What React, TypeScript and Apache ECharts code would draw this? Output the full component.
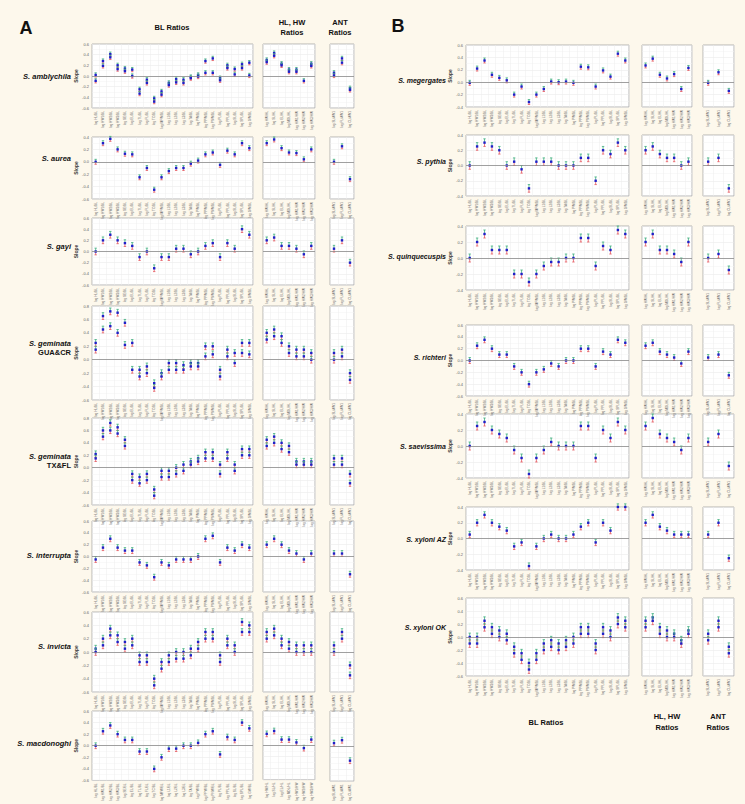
import React, { useEffect, useRef } from "react";
import * as echarts from "echarts";

// ---------- category labels ----------
const BL_LABELS = [
  "log HL/BL", "log HW1/BL", "log HW2/BL", "log HW3/BL", "log SE/BL", "log EL/BL",
  "log TL/BL", "log FL/BL", "log TC/BL", "log MFW/BL", "log L1/BL", "log L2/BL",
  "log L3/BL", "log TA/BL", "log PW/BL", "log PPW/BL", "log PNW/BL", "log PL/BL",
  "log PPL/BL", "log SL/BL", "log SPL/BL", "log GW/BL",
];
const HL_LABELS = ["log HW/HL", "log SL/HL", "log EL/HL", "log MDL/HL", "log HW1/HW", "log HW2/HW", "log HW3/HW"];
const ANT_LABELS = ["log SL/AW1", "log FL/AW1", "log CL/AW1"];
const Y_TICK_STEP = 0.2;

// ---------- A: series values ----------
const amblychilaBL = [0.02, 0.28, 0.41, 0.2, 0.14, 0.12, -0.25, -0.07, -0.42, -0.29, -0.13, -0.06, -0.07, -0.02, 0.02, 0.28, 0.33, -0.04, 0.2, 0.13, 0.22, 0.25];
const amblychilaBL2 = [-0.09, 0.19, 0.35, 0.13, 0.09, 0.0, -0.33, -0.13, -0.48, -0.35, -0.17, -0.12, -0.13, -0.04, -0.01, 0.06, 0.06, -0.08, 0.15, 0.03, 0.15, 0.01];
const amblychilaHL = [0.3, 0.43, 0.23, 0.12, 0.12, -0.09, 0.23];
const amblychilaHL2 = [0.26, 0.38, 0.2, 0.08, 0.08, null, 0.19];
const amblychilaANT = [0.06, 0.33, -0.23];
const amblychilaANT2 = [0.01, 0.25, -0.26];

const aureaBL = [0.0, 0.3, 0.37, 0.2, 0.13, 0.12, -0.25, -0.1, -0.45, -0.25, -0.15, -0.1, -0.1, -0.03, 0.02, 0.12, 0.15, -0.05, 0.18, 0.12, 0.3, 0.22];
const aureaHL = [0.3, 0.36, 0.22, 0.15, 0.14, 0.04, 0.2];
const aureaANT = [0.0, 0.25, -0.28];

const gayiBL = [0.0, 0.2, 0.3, 0.2, 0.15, 0.1, -0.1, 0.0, -0.3, -0.1, -0.1, 0.05, 0.05, -0.05, 0.0, 0.1, 0.15, -0.1, 0.15, 0.05, 0.4, 0.3];
const gayiHL = [0.2, 0.25, 0.1, 0.1, 0.05, -0.05, 0.1];
const gayiANT = [0.05, 0.2, -0.2];

const gemGuaBL = [0.25, 0.65, 0.72, 0.7, 0.55, 0.25, -0.15, -0.1, -0.35, -0.2, -0.05, -0.05, -0.08, -0.05, -0.05, 0.2, 0.2, -0.15, 0.15, 0.1, 0.25, 0.25];
const gemGuaBL2 = [0.15, 0.45, 0.5, 0.4, 0.22, -0.15, -0.25, -0.2, -0.42, -0.25, -0.15, -0.15, -0.15, -0.1, -0.1, 0.05, 0.08, -0.25, 0.05, -0.05, 0.1, 0.08];
const gemGuaHL = [0.4, 0.45, 0.35, 0.2, 0.15, 0.15, 0.1];
const gemGuaHL2 = [0.3, 0.35, 0.25, 0.1, 0.05, 0.05, 0.0];
const gemGuaANT = [0.1, 0.15, -0.2];
const gemGuaANT2 = [0.0, 0.05, -0.3];

const gemTxBL = [0.22, 0.6, 0.72, 0.65, 0.45, -0.1, -0.15, -0.1, -0.35, -0.05, -0.05, 0.0, 0.05, 0.1, 0.15, 0.25, 0.25, 0.05, 0.25, 0.05, 0.3, 0.3];
const gemTxBL2 = [0.15, 0.5, 0.6, 0.55, 0.35, -0.2, -0.25, -0.2, -0.45, -0.15, -0.15, -0.1, -0.05, 0.05, 0.1, 0.15, 0.15, -0.1, 0.15, -0.05, 0.2, 0.2];
const gemTxHL = [0.45, 0.5, 0.4, 0.35, 0.1, 0.1, 0.1];
const gemTxHL2 = [0.35, 0.4, 0.3, 0.25, 0.05, 0.05, 0.05];
const gemTxANT = [0.15, 0.15, -0.1];
const gemTxANT2 = [0.05, 0.05, -0.25];

const interruptaBL = [-0.05, 0.15, 0.3, 0.15, 0.1, 0.1, -0.1, -0.15, -0.35, -0.1, -0.15, -0.05, -0.05, -0.05, 0.0, 0.3, 0.35, -0.1, 0.15, 0.1, 0.2, 0.15];
const interruptaHL = [0.2, 0.3, 0.2, 0.1, 0.05, -0.05, 0.05];
const interruptaANT = [0.05, 0.05, -0.3];

const invictaBL = [0.05, 0.2, 0.35, 0.25, 0.15, 0.2, -0.05, -0.05, -0.4, -0.15, -0.05, 0.0, 0.0, 0.05, 0.15, 0.3, 0.3, -0.05, 0.2, 0.1, 0.45, 0.4];
const invictaBL2 = [0.0, 0.1, 0.25, 0.15, 0.05, 0.1, -0.15, -0.15, -0.5, -0.25, -0.15, -0.1, -0.1, -0.05, 0.05, 0.2, 0.2, -0.15, 0.1, 0.0, 0.3, 0.3];
const invictaHL = [0.3, 0.35, 0.2, 0.15, 0.1, 0.1, 0.1];
const invictaHL2 = [0.2, 0.25, 0.1, 0.05, 0.0, 0.0, 0.0];
const invictaANT = [0.1, 0.3, -0.2];
const invictaANT2 = [0.0, 0.2, -0.35];

const macdonoghiBL = [0.0, 0.25, 0.35, 0.2, 0.1, 0.1, -0.1, -0.1, -0.4, -0.2, -0.05, -0.05, 0.0, 0.0, 0.05, 0.2, 0.25, -0.15, 0.15, 0.1, 0.4, 0.3];
const macdonoghiHL = [0.2, 0.25, 0.1, 0.1, 0.05, -0.05, 0.1];
const macdonoghiANT = [0.05, 0.1, -0.25];

// ---------- B: series values ----------
const megergatesBL = [-0.01, 0.22, 0.35, 0.12, 0.07, 0.03, -0.2, -0.07, -0.32, -0.2, -0.11, 0.01, 0.0, 0.01, -0.01, 0.25, 0.24, -0.07, 0.19, 0.09, 0.46, 0.35];
const megergatesHL = [0.27, 0.38, 0.12, 0.06, 0.13, -0.11, 0.23];
const megergatesANT = [-0.01, 0.16, -0.14];

const pythiaBL = [0.0, 0.25, 0.3, 0.25, 0.2, 0.0, 0.05, -0.05, -0.3, 0.05, 0.05, 0.05, 0.0, 0.0, 0.0, 0.1, 0.1, -0.2, 0.2, 0.15, 0.3, 0.2];
const pythiaHL = [0.2, 0.25, 0.15, 0.1, 0.1, 0.0, 0.05];
const pythiaANT = [0.05, 0.1, -0.3];

const quinquecuspisBL = [0.0, 0.2, 0.3, 0.1, 0.1, 0.1, -0.2, -0.2, -0.3, -0.2, -0.1, -0.05, -0.05, 0.0, 0.0, 0.25, 0.25, -0.1, 0.15, 0.1, 0.35, 0.3];
const quinquecuspisHL = [0.2, 0.3, 0.1, 0.1, 0.05, -0.05, 0.2];
const quinquecuspisANT = [0.0, 0.05, -0.15];

const richteriBL = [0.0, 0.25, 0.35, 0.2, 0.1, 0.1, -0.1, -0.2, -0.4, -0.2, -0.15, -0.05, -0.1, 0.0, 0.0, 0.2, 0.2, -0.1, 0.15, 0.1, 0.35, 0.3];
const richteriHL = [0.25, 0.3, 0.15, 0.1, 0.05, -0.05, 0.15];
const richteriANT = [0.05, 0.1, -0.25];

const saevissimaBL = [0.0, 0.25, 0.3, 0.2, 0.15, 0.1, -0.05, -0.15, -0.35, -0.15, -0.05, 0.05, 0.0, 0.0, 0.0, 0.25, 0.25, -0.15, 0.2, 0.1, 0.3, 0.2];
const saevissimaHL = [0.25, 0.35, 0.15, 0.1, 0.05, -0.05, 0.1];
const saevissimaANT = [0.05, 0.15, -0.25];

const xyloniAzBL = [0.05, 0.2, 0.3, 0.2, 0.15, 0.1, -0.1, -0.05, -0.35, -0.1, 0.0, 0.05, 0.0, 0.0, 0.05, 0.15, 0.2, -0.05, 0.2, 0.1, 0.4, 0.4];
const xyloniAzHL = [0.2, 0.3, 0.15, 0.1, 0.05, 0.05, 0.05];
const xyloniAzANT = [0.05, 0.2, -0.25];

const xyloniOkBL = [0.0, 0.0, 0.25, 0.15, 0.1, 0.05, -0.15, -0.25, -0.4, -0.25, -0.1, -0.05, -0.1, -0.05, 0.0, 0.15, 0.15, -0.1, 0.15, 0.1, 0.3, 0.25];
const xyloniOkBL2 = [-0.1, -0.1, 0.15, 0.05, 0.0, -0.05, -0.25, -0.35, -0.5, -0.35, -0.2, -0.15, -0.2, -0.15, -0.1, 0.05, 0.05, -0.2, 0.05, 0.0, 0.2, 0.15];
const xyloniOkHL = [0.25, 0.3, 0.15, 0.1, 0.05, -0.05, 0.1];
const xyloniOkHL2 = [0.15, 0.25, 0.05, 0.0, 0.0, -0.1, 0.05];
const xyloniOkANT = [0.05, 0.25, -0.15];
const xyloniOkANT2 = [-0.05, 0.15, -0.25];

// half-width of the confidence bars, per species
const CI_A = [0.04, 0.04, 0.06, 0.05, 0.05, 0.05, 0.05, 0.05];
const CI_B = [0.04, 0.05, 0.05, 0.05, 0.05, 0.04, 0.06];

type Sp = {
  name: string[];
  bl: (number | null)[][];
  hl: (number | null)[][];
  ant: (number | null)[][];
  min: number;
  max: number;
};

const SPECIES_A: Sp[] = [
  { name: ["S. amblychila"], bl: [amblychilaBL, amblychilaBL2], hl: [amblychilaHL, amblychilaHL2], ant: [amblychilaANT, amblychilaANT2], min: -0.6, max: 0.6 },
  { name: ["S. aurea"], bl: [aureaBL], hl: [aureaHL], ant: [aureaANT], min: -0.6, max: 0.4 },
  { name: ["S. gayi"], bl: [gayiBL], hl: [gayiHL], ant: [gayiANT], min: -0.6, max: 0.6 },
  { name: ["S. geminata", "GUA&CR"], bl: [gemGuaBL, gemGuaBL2], hl: [gemGuaHL, gemGuaHL2], ant: [gemGuaANT, gemGuaANT2], min: -0.6, max: 0.8 },
  { name: ["S. geminata", "TX&FL"], bl: [gemTxBL, gemTxBL2], hl: [gemTxHL, gemTxHL2], ant: [gemTxANT, gemTxANT2], min: -0.6, max: 0.8 },
  { name: ["S. interrupta"], bl: [interruptaBL], hl: [interruptaHL], ant: [interruptaANT], min: -0.6, max: 0.6 },
  { name: ["S. invicta"], bl: [invictaBL, invictaBL2], hl: [invictaHL, invictaHL2], ant: [invictaANT, invictaANT2], min: -0.6, max: 0.6 },
  { name: ["S. macdonoghi"], bl: [macdonoghiBL], hl: [macdonoghiHL], ant: [macdonoghiANT], min: -0.6, max: 0.6 },
];
const SPECIES_B: Sp[] = [
  { name: ["S. megergates"], bl: [megergatesBL], hl: [megergatesHL], ant: [megergatesANT], min: -0.4, max: 0.6 },
  { name: ["S. pythia"], bl: [pythiaBL], hl: [pythiaHL], ant: [pythiaANT], min: -0.4, max: 0.4 },
  { name: ["S. quinquecuspis"], bl: [quinquecuspisBL], hl: [quinquecuspisHL], ant: [quinquecuspisANT], min: -0.4, max: 0.4 },
  { name: ["S. richteri"], bl: [richteriBL], hl: [richteriHL], ant: [richteriANT], min: -0.6, max: 0.6 },
  { name: ["S. saevissima"], bl: [saevissimaBL], hl: [saevissimaHL], ant: [saevissimaANT], min: -0.4, max: 0.4 },
  { name: ["S. xyloni AZ"], bl: [xyloniAzBL], hl: [xyloniAzHL], ant: [xyloniAzANT], min: -0.4, max: 0.4 },
  { name: ["S. xyloni OK"], bl: [xyloniOkBL, xyloniOkBL2], hl: [xyloniOkHL, xyloniOkHL2], ant: [xyloniOkANT, xyloniOkANT2], min: -0.6, max: 0.6 },
];

// ---------- layout (pixels) ----------
const ROWS_A = [
  [44, 108, 76], [137, 199, 158], [218, 285, 246], [306, 400, 343],
  [418, 505, 456], [521, 592, 555], [612, 692, 646], [711, 786, 743],
];
const ROWS_B = [
  [45, 107, 80], [135, 196, 161], [226, 290, 256], [325, 396, 357],
  [414, 478, 446], [507, 570, 539], [598, 676, 627],
];
const COLS_A = { bl: [92, 253], hl: [263, 315], ant: [330, 354], label: 71 };
const COLS_B = { bl: [466, 629], hl: [642, 692], ant: [703, 734], label: 446 };

const BG = "#fdf8ec";
const BLUE = "#1f1fc8";
const GREEN = "#3fae7e";
const RED = "#e4585f";
const FONT = "'Liberation Sans', Arial, sans-serif";

function renderBar(_params: any, api: any) {
  const x = api.value(0);
  const v = api.value(1);
  const p = api.coord([x, v]);
  const ph = api.coord([x, api.value(3)]);
  const pl = api.coord([x, api.value(2)]);
  const cx = p[0];
  return {
    type: "group",
    children: [
      { type: "line", shape: { x1: cx, y1: ph[1], x2: cx, y2: p[1] }, style: { stroke: GREEN, lineWidth: 0.8 } },
      { type: "line", shape: { x1: cx - 1.2, y1: ph[1], x2: cx + 1.2, y2: ph[1] }, style: { stroke: GREEN, lineWidth: 0.8 } },
      { type: "line", shape: { x1: cx, y1: p[1], x2: cx, y2: pl[1] }, style: { stroke: RED, lineWidth: 0.8 } },
      { type: "line", shape: { x1: cx - 1.2, y1: pl[1], x2: cx + 1.2, y2: pl[1] }, style: { stroke: RED, lineWidth: 0.8 } },
      { type: "rect", shape: { x: cx - 1.2, y: p[1] - 1.2, width: 2.4, height: 2.4 }, style: { fill: BLUE } },
    ],
  };
}

function buildOption() {
  const grid: any[] = [];
  const xAxis: any[] = [];
  const yAxis: any[] = [];
  const series: any[] = [];
  const graphic: any[] = [];

  const addColumn = (species: Sp[], rows: number[][], cols: any, ci: number[], labelSize: number) => {
    species.forEach((sp, si) => {
      const [top, bottom, labelY] = rows[si];
      const panels = [
        { key: "bl", labels: BL_LABELS, vals: sp.bl, xr: cols.bl },
        { key: "hl", labels: HL_LABELS, vals: sp.hl, xr: cols.hl },
        { key: "ant", labels: ANT_LABELS, vals: sp.ant, xr: cols.ant },
      ];
      panels.forEach((pn) => {
        const gi = grid.length;
        grid.push({
          left: pn.xr[0], top, width: pn.xr[1] - pn.xr[0], height: bottom - top,
          show: true, backgroundColor: "#ffffff", borderColor: "#a3a3a3", borderWidth: 0.8,
        });
        xAxis.push({
          gridIndex: gi, type: "category", data: pn.labels, boundaryGap: true,
          axisLine: { show: false }, axisTick: { show: false },
          axisLabel: { rotate: 90, fontSize: 3.2, interval: 0, margin: 3, color: "#666", fontFamily: FONT },
          splitLine: { show: true, interval: 0, lineStyle: { color: "#ededed", width: 0.5 } },
        });
        const isBL = pn.key === "bl";
        yAxis.push({
          gridIndex: gi, type: "value", min: sp.min, max: sp.max, interval: Y_TICK_STEP,
          axisLine: { show: false }, axisTick: { show: false },
          axisLabel: { show: isBL, fontSize: 4, margin: 3, color: "#666", fontFamily: FONT, formatter: (v: number) => v.toFixed(1) },
          splitLine: { show: true, lineStyle: { color: "#e6e6e6", width: 0.5 } },
          minorTick: { show: false, splitNumber: 2 },
          minorSplitLine: { show: true, lineStyle: { color: "#f3f3f3", width: 0.5 } },
          name: isBL ? "Slope" : "", nameLocation: "middle", nameGap: 11,
          nameTextStyle: { fontSize: 5, fontWeight: "bold", color: "#333", fontFamily: FONT },
        });
        const data: any[] = [];
        pn.vals.forEach((arr) => {
          arr.forEach((v, i) => {
            if (v === null || v === undefined) return;
            data.push([i, v, v - ci[si], v + ci[si]]);
          });
        });
        series.push({
          type: "custom", xAxisIndex: gi, yAxisIndex: gi, renderItem: renderBar, data,
          encode: { x: 0, y: [1, 2, 3] }, clip: false, silent: true,
          markLine: {
            silent: true, symbol: "none", animation: false,
            label: { show: false },
            lineStyle: { color: "#8a8a8a", type: "solid", width: 0.8 },
            data: [{ yAxis: 0 }],
          },
        });
      });
      sp.name.forEach((line, li) => {
        graphic.push({
          type: "text", x: cols.label, y: labelY + li * (labelSize + 2),
          style: {
            text: line, fontSize: labelSize, fontWeight: "bold", fontStyle: li === 0 ? "italic" : "normal",
            fontFamily: FONT, fill: "#111", align: "right", verticalAlign: "middle",
          },
        });
      });
    });
  };

  addColumn(SPECIES_A, ROWS_A, COLS_A, CI_A, 7.5);
  addColumn(SPECIES_B, ROWS_B, COLS_B, CI_B, 7);

  const head = (text: string, x: number, y: number, size = 7.5) =>
    graphic.push({
      type: "text", x, y,
      style: { text, fontSize: size, fontWeight: "bold", fontFamily: FONT, fill: "#111", align: "center", verticalAlign: "middle" },
    });
  head("A", 26, 28, 18);
  head("B", 398, 26, 18);
  head("BL Ratios", 172, 27);
  head("HL, HW", 292, 22);
  head("Ratios", 292, 32);
  head("ANT", 340, 22);
  head("Ratios", 340, 32);
  head("BL Ratios", 546, 722);
  head("HL, HW", 667, 716);
  head("Ratios", 667, 727);
  head("ANT", 718, 716);
  head("Ratios", 718, 727);

  return {
    animation: false,
    backgroundColor: BG,
    textStyle: { fontFamily: FONT },
    grid, xAxis, yAxis, series, graphic,
  };
}

export default function App() {
  const ref = useRef<HTMLDivElement>(null);
  useEffect(() => {
    if (!ref.current) return;
    const chart = echarts.init(ref.current, undefined, { renderer: "svg" });
    chart.setOption(buildOption() as any);
    return () => chart.dispose();
  }, []);
  return (
    <div
      ref={ref}
      style={{ position: "absolute", left: 0, top: 0, width: 745, height: 804, background: BG }}
    />
  );
}
